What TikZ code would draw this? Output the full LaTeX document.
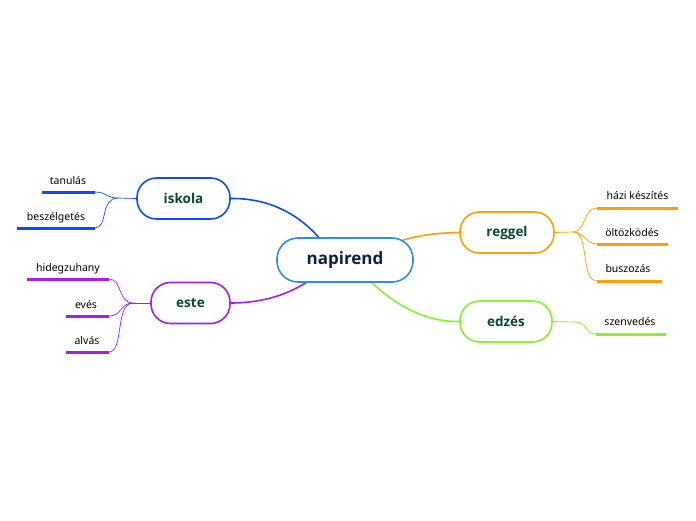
\documentclass[tikz,border=0pt]{standalone}
\usepackage{fontspec}
\setmainfont{Noto Sans}
\newfontfamily\boldfam{Open Sans}
\usetikzlibrary{calc,backgrounds}
\definecolor{cblue}{HTML}{2E8FD6}
\definecolor{cnavy}{HTML}{0F1F4E}
\definecolor{tgreen}{HTML}{0B4733}
\definecolor{iblue}{HTML}{0B4DFA}
\definecolor{epurple}{HTML}{A51EF0}
\definecolor{rorange}{HTML}{FFA000}
\definecolor{zgreen}{HTML}{86F52A}
\tikzset{
  pill/.style={draw, line width=1.6pt, fill=white, rounded corners=19.5pt,
    minimum height=41pt, inner sep=0pt, text=tgreen,
    font=\boldfam\bfseries\fontsize{13.5}{15}\selectfont},
  leaftext/.style={anchor=base, inner sep=0pt, font=\fontsize{10.5}{12}\selectfont, text=black},
  leafline/.style={line width=3pt},
  mainlink/.style={line width=1.6pt},
  leaflink/.style={line width=0.7pt},
}
\begin{document}
\begin{tikzpicture}[x=1pt,y=-1pt]
\useasboundingbox (0,0) rectangle (696,520);
% central
\node[draw=cblue, line width=1.6pt, fill=white, rounded corners=21pt,
  minimum width=136pt, minimum height=44pt, inner sep=0pt, text=cnavy,
  font=\boldfam\bfseries\fontsize{17}{20}\selectfont] (napirend) at (345,260) {napirend};
% main topics
\node[pill, draw=iblue, minimum width=93pt] (iskola) at (183.5,198.5) {iskola};
\node[pill, draw=epurple, minimum width=79pt] (este) at (190.5,303) {este};
\node[pill, draw=rorange, minimum width=94pt] (reggel) at (507,232.5) {reggel};
\node[pill, draw=zgreen, minimum width=92pt] (edzes) at (506,321.5) {edzés};
% main links
\begin{scope}[on background layer]
\draw[mainlink, iblue] (iskola.east) .. controls (270,198) and (300,215) .. ($(napirend.center)+(-24,-20)$);
\draw[mainlink, rorange] (reggel.west) .. controls (440,233) and (425,234) .. ($(napirend.center)+(58,-20)$);
\draw[mainlink, epurple] (este.east) .. controls (265,303) and (290,293) .. ($(napirend.center)+(-38,22)$);
\draw[mainlink, zgreen] (edzes.west) .. controls (430,322) and (400,310) .. ($(napirend.center)+(24,20)$);
\end{scope}
% iskola leaves
\coordinate (tanL) at (42,192); \coordinate (tanR) at (95,192);
\coordinate (besL) at (17,228); \coordinate (besR) at (95,228);
\node[leaftext] (tanulas) at (68,184) {tanulás};
\node[leaftext] (beszelgetes) at (56,220) {beszélgetés};
\draw[leafline, iblue] (tanL) -- (tanR);
\draw[leafline, iblue] (besL) -- (besR);
\coordinate (iskB) at (118,198);
\draw[leaflink, iblue] (iskola.west) -- (iskB);
\draw[leaflink, iblue] (iskB) .. controls (106,198) and (107,192) .. (tanR);
\draw[leaflink, iblue] (iskB) .. controls (100,198) and (108,228) .. (besR);
% este leaves
\coordinate (hidL) at (27,279); \coordinate (hidR) at (109,279);
\coordinate (eveL) at (66,316); \coordinate (eveR) at (109,316);
\coordinate (alvL) at (66,352); \coordinate (alvR) at (109,352);
\node[leaftext] (hidegzuhany) at (68,271) {hidegzuhany};
\node[leaftext] (eves) at (86,308) {evés};
\node[leaftext] (alvas) at (87,344) {alvás};
\draw[leafline, epurple] (hidL) -- (hidR);
\draw[leafline, epurple] (eveL) -- (eveR);
\draw[leafline, epurple] (alvL) -- (alvR);
\coordinate (esteB) at (133,303);
\draw[leaflink, epurple] (este.west) -- (esteB);
\draw[leaflink, epurple] (esteB) .. controls (118,303) and (122,279) .. (hidR);
\draw[leaflink, epurple] (esteB) .. controls (120,303) and (122,316) .. (eveR);
\draw[leaflink, epurple] (esteB) .. controls (115,303) and (124,352) .. (alvR);
% reggel leaves
\coordinate (hazL) at (597,208); \coordinate (hazR) at (678,208);
\coordinate (oltL) at (597,244); \coordinate (oltR) at (668,244);
\coordinate (busL) at (597,281); \coordinate (busR) at (662,281);
\node[leaftext] (hazi) at (637.5,199) {házi készítés};
\node[leaftext] (oltozkodes) at (632,236) {öltözködés};
\node[leaftext] (buszozas) at (628,272) {buszozás};
\draw[leafline, rorange] (hazL) -- (hazR);
\draw[leafline, rorange] (oltL) -- (oltR);
\draw[leafline, rorange] (busL) -- (busR);
\coordinate (regB) at (573,232);
\draw[leaflink, rorange] (reggel.east) -- (regB);
\draw[leaflink, rorange] (regB) .. controls (586,232) and (583,208) .. (hazL);
\draw[leaflink, rorange] (regB) .. controls (584,232) and (586,244) .. (oltL);
\draw[leaflink, rorange] (regB) .. controls (590,232) and (580,281) .. (busL);
% edzes leaf
\coordinate (szeL) at (596,334); \coordinate (szeR) at (666,334);
\node[leaftext] (szenvedes) at (630,325) {szenvedés};
\draw[leafline, zgreen] (szeL) -- (szeR);
\coordinate (edzB) at (575,322);
\draw[leaflink, zgreen] (edzes.east) -- (edzB);
\draw[leaflink, zgreen] (edzB) .. controls (588,322) and (584,334) .. (szeL);
\end{tikzpicture}
\end{document}
